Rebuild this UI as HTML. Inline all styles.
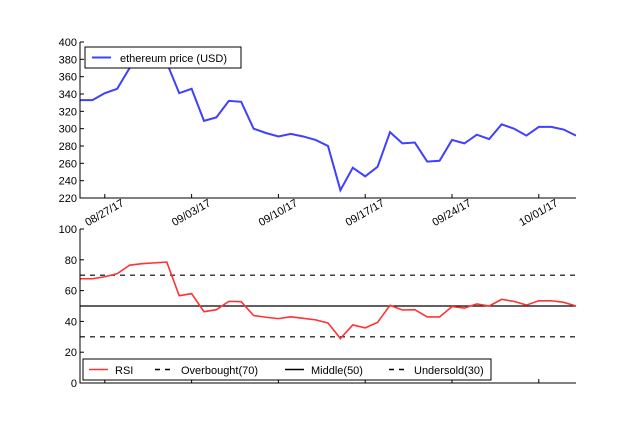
<!DOCTYPE html>
<html><head><meta charset="utf-8"><style>
body{margin:0;background:#fff}
svg text{font-family:"Liberation Sans",sans-serif;font-size:11px;fill:#000}
</style></head><body>
<svg id="c" width="640" height="427" xmlns="http://www.w3.org/2000/svg"></svg>
<script>
const days = 41;
const dateTicks = ["08/27/17","09/03/17","09/10/17","09/17/17","09/24/17","10/01/17"];
const dateTickDays = [2,9,16,23,30,37];
const price = [333,333,341,346,370,385,390,376,341,346,309,313,332,331,300,295,291,294,291,287,280,229,255,245,256,296,283,284,262,263,287,283,293,288,305,300,292,302,302,299,292];
const rsi = [67.7,67.7,69,71,76.5,77.5,78,78.5,56.7,58,46.3,47.6,53,52.8,43.8,42.7,41.8,43,42,41,39,28.9,37.7,35.8,39.4,50.4,47.4,47.6,42.9,42.9,49.6,48.7,51.3,50,54.3,53,50.6,53.4,53.4,52.4,50];
const priceTicks = [220,240,260,280,300,320,340,360,380,400];
const rsiTicks = [0,20,40,60,80,100];
const levels = [70,50,30];

const svg = document.getElementById('c');
const NS = "http://www.w3.org/2000/svg";
function mk(tag, attrs, parent){const e=document.createElementNS(NS,tag);for(const k in attrs)e.setAttribute(k,attrs[k]);(parent||svg).appendChild(e);return e;}
const X0=80, X1=576;
const xs = d => X0 + d*(X1-X0)/(days-1);
const yp = v => 198 - (v-220)*(198-42)/180;
const yr = v => 383 - v*(383-229)/100;

const defs = mk('defs',{});
const cp = mk('clipPath',{id:'clipTop'},defs);
mk('rect',{x:X0,y:42,width:X1-X0,height:156},cp);

const pl = mk('polyline',{points:price.map((v,i)=>xs(i)+','+yp(v)).join(' '),fill:'none',stroke:'#4040ff','stroke-width':2,'clip-path':'url(#clipTop)'});



let a = mk('path',{d:`M${X0},42V198H${X1}`,fill:'none',stroke:'#000','stroke-width':1});
 
priceTicks.forEach(v=>{
  const y=yp(v);
  mk('line',{x1:X0,x2:X0+4,y1:y,y2:y,stroke:'#000'});
  const t=mk('text',{x:X0-3,y:y+4,'text-anchor':'end'}); t.textContent=v;
   
});
dateTickDays.forEach((d,i)=>{
  const x=xs(d);
  mk('line',{x1:x,x2:x,y1:198,y2:194,stroke:'#000'});
  mk('line',{x1:x,x2:x,y1:383,y2:379,stroke:'#000'});
  const t=mk('text',{x:x+20,y:205,'text-anchor':'end',transform:`rotate(-30 ${x+20} 205)`}); t.textContent=dateTicks[i];
   
});
const lg = mk('g',{});
 
mk('rect',{x:85,y:47,width:156,height:21,fill:'#fff',stroke:'#000'},lg);
mk('line',{x1:92,x2:111,y1:57.5,y2:57.5,stroke:'#4040ff','stroke-width':2},lg);
let lt=mk('text',{x:120,y:62,'font-size':'12.5'},lg); lt.textContent='ethereum price (USD)';

const lvStyles=[{d:'5,5',n:'overbought-line'},{d:'',n:'middle-line'},{d:'5,5',n:'undersold-line'}];
levels.forEach((v,i)=>{
  const l=mk('line',{x1:X0,x2:X1,y1:yr(v),y2:yr(v),stroke:'#000','stroke-width':1.2});
  if(lvStyles[i].d) l.setAttribute('stroke-dasharray',lvStyles[i].d);
   
});
const rl = mk('polyline',{points:rsi.map((v,i)=>xs(i)+','+yr(v)).join(' '),fill:'none',stroke:'#ff3333','stroke-width':1.6});
 
a = mk('path',{d:`M${X0},229V383H${X1}`,fill:'none',stroke:'#000','stroke-width':1});
 
rsiTicks.forEach(v=>{
  const y=yr(v);
  mk('line',{x1:X0,x2:X0+4,y1:y,y2:y,stroke:'#000'});
  const t=mk('text',{x:X0-3,y:y+4,'text-anchor':'end'}); t.textContent=v;
   
});
const bl = mk('g',{});
 
mk('rect',{x:83,y:359,width:408,height:21,fill:'#fff',stroke:'#000'},bl);
const ents=[{x:89,c:'#ff3333',d:'',t:'RSI',tx:115},{x:155,c:'#000',d:'5,5',t:'Overbought(70)',tx:181},{x:285,c:'#000',d:'',t:'Middle(50)',tx:311},{x:389,c:'#000',d:'5,5',t:'Undersold(30)',tx:414}];
ents.forEach(e=>{
  const l=mk('line',{x1:e.x,x2:e.x+19,y1:369.5,y2:369.5,stroke:e.c,'stroke-width':1.5},bl);
  if(e.d) l.setAttribute('stroke-dasharray',e.d);
  const t=mk('text',{x:e.tx,y:374,'font-size':'12'},bl); t.textContent=e.t;
});
</script>
</body></html>
